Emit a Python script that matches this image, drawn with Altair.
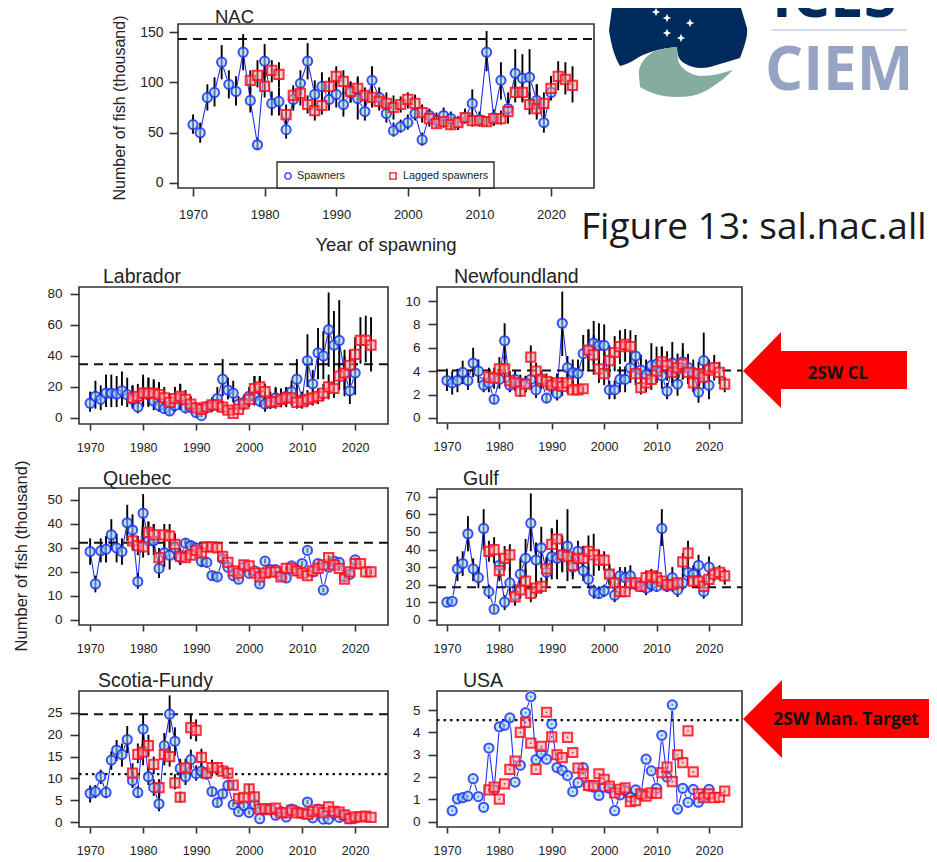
import altair as alt
import pandas as pd

# ---------- years ----------
years_s = list(range(1970, 2021))
years_l = list(range(1978, 2024))
years_usa = list(range(1971, 2021))

# ---------- NAC ----------
nac_s = [58,50,85,90,120,98,91,130,82,38,121,79,81,53,83,99,121,88,96,83,88,78,90,84,71,102,85,69,52,56,60,69,43,67,62,67,64,60,65,79,63,130,65,102,74,109,104,105,82,60,90]
nac_s_lo = [49,40,72,76,103,84,77,112,70,33,104,67,67,44,72,87,103,75,80,72,75,66,80,63,62,88,75,60,46,50,53,62,37,60,56,61,58,53,60,66,57,111,57,83,60,85,82,78,67,50,82]
nac_s_hi = [68,60,98,105,137,112,106,148,95,45,138,91,95,62,94,112,139,102,110,95,102,91,101,104,82,116,95,80,60,63,68,78,50,74,70,75,71,66,74,93,71,151,73,120,90,133,128,133,98,72,106]
nac_l = [102,107,96,112,108,68,87,89,78,72,77,96,106,101,91,94,87,85,81,79,75,78,83,79,70,64,59,61,58,60,65,62,62,61,64,64,71,90,90,78,74,79,94,106,103,97]
nac_l_lo = [90,95,85,100,95,60,75,77,69,62,68,84,95,88,80,82,77,75,72,68,63,70,74,70,60,56,54,55,53,53,59,56,56,56,57,58,59,80,80,68,63,69,84,92,88,80]
nac_l_hi = [112,122,110,122,120,78,97,100,87,87,92,105,116,112,100,106,95,95,90,90,87,86,90,88,78,72,67,67,65,66,72,68,68,66,70,72,83,100,105,90,98,90,106,121,120,116]
nac_limit = 143

# ---------- Labrador ----------
lab_s = [9.5,14,12,16,16,15.5,17.5,15,12,7,16,15,11,8,6,4.5,8,13,6.5,7,3.5,1.5,7,8,12.5,25,18,16,9,10,14,14,11,9,10,13,12,14,17,25,12,37,22,42,40,57,47,50,29,17.5,29]
lab_s_lo = [4,6,5,7,7,7,8,7,6,3,7,7,5,4,3,2,4,5,3,3,1.5,0.5,3,4,6,14,12,10,5,6,8,8,7,4,6,8,7,8,11,14,7,20,12,25,25,33,25,25,14,9,15]
lab_s_hi = [17,24,21,28,28,27,30,26,21,13,28,26,24,23,12,9,20,22,12,12,6,3,11,13,20,38,26,24,14,15,20,27,27,17,17,20,19,20,24,38,17,54,31,58,56,81,69,76,44,26,44]
lab_l = [13,14,16,16,16,15,13,10,12.5,14,12,9,6.5,5.5,7,8.5,8.5,7,5,3,5.5,9,12,19,20,17,10,10.5,12,13,13,10,10.5,12,13,14,16,20,19,27,29,34,41,50,50,47]
lab_l_lo = [7,7,8,8,8,8,7,5,6,7,6,5,3,2,3,4,4,3,2,1,2,5,7,12,13,10,6,6,7,7,8,6,6,7,8,9,11,12,13,18,18,24,30,35,36,30]
lab_l_hi = [21,22,25,26,25,23,20,16,20,22,18,14,10,9,11,13,13,11,8,5,9,14,17,27,27,22,15,19,19,20,21,15,16,18,18,19,22,28,26,36,40,44,52,65,66,65]
lab_limit = 34.7

# ---------- Newfoundland ----------
nfl_s = [3.2,3.0,3.2,3.9,3.2,4.7,4.0,2.8,3.0,1.6,3.3,6.6,2.8,3.3,3.0,2.9,3.3,2.4,3.3,1.7,2.8,2.1,8.1,4.3,3.9,3.8,5.5,5.8,6.4,6.2,6.2,2.4,2.4,3.3,3.3,4.3,5.3,4.1,3.7,4.5,4.6,3.6,2.3,4.7,2.9,4.8,4.3,3.9,2.2,4.9,2.8]
nfl_s_lo = [2.3,2.0,2.2,2.9,2.4,3.5,3.0,2.2,2.2,1.2,2.5,5.0,2.2,2.6,2.3,2.2,2.5,1.7,2.5,1.3,2.0,1.5,5.3,3.0,2.7,2.6,4.0,4.0,4.5,4.3,4.4,1.6,1.6,2.2,2.2,3.0,3.5,2.8,2.7,3.0,3.0,2.5,1.6,3.0,1.9,3.3,3.2,2.7,1.3,2.6,1.6]
nfl_s_hi = [4.2,4.0,4.2,4.9,4.0,6.0,5.0,3.5,3.8,2.0,4.2,8.1,3.4,4.0,3.7,3.6,4.2,3.2,4.0,2.1,3.5,2.7,10.8,5.3,5.0,5.0,7.1,7.6,8.3,8.1,8.0,3.2,3.2,4.4,4.4,5.5,7.1,5.4,5.0,6.4,6.1,6.1,3.0,6.5,3.9,6.4,5.5,5.0,3.1,7.3,4.0]
nfl_l = [3.5,3.4,4.2,4.2,3.2,3.0,2.3,2.9,5.2,4.0,3.3,3.1,2.8,3.0,2.7,3.0,2.4,2.4,2.5,5.8,5.4,4.2,3.8,4.9,5.6,6.1,6.3,6.1,3.8,2.6,3.0,3.3,4.0,4.8,4.5,3.9,4.3,4.6,3.9,3.0,3.8,3.5,4.1,4.3,3.9,2.9]
nfl_l_lo = [2.6,2.5,3.0,3.0,2.4,2.3,1.8,2.2,4.0,3.0,2.5,2.4,2.0,2.1,1.9,2.1,2.0,2.0,2.2,4.2,3.7,3.0,2.8,3.5,4.0,4.6,4.8,4.5,2.8,2.0,2.2,2.4,3.0,3.5,3.2,2.7,3.0,3.3,2.9,2.2,2.7,2.5,3.0,3.2,2.9,2.2]
nfl_l_hi = [4.3,4.3,5.2,5.3,4.0,3.7,2.9,3.6,6.2,4.7,4.0,3.8,3.5,3.8,3.5,3.9,3.2,3.2,2.7,7.5,7.1,5.5,5.0,6.2,7.0,7.5,7.6,7.5,5.0,3.2,4.0,4.4,5.0,6.1,5.7,5.2,5.5,5.9,5.0,4.2,4.8,4.5,5.0,5.4,4.8,3.5]
nfl_limit = 4.05

# ---------- Quebec ----------
que_s = [28.5,15,28.8,29.5,35.5,30,28.5,40.5,37.5,16,44.5,33,33,21.5,28,27,30,26,32,31,30,24.5,24,18.5,18,25.5,22,18.5,17,22,19.5,20.5,15,24.5,21,21,18.5,17.5,22.5,20.5,23.5,29,20,23.5,12.5,22,24.5,24,18,19,25]
que_s_lo = [23,11.5,24,24,29,24,23,33,31,13,36,27,27,17.5,22,21,25,23,30,28.5,28,22,22,17,16.5,24,21,17.5,16,21,18.5,19.5,14,23.5,20,20,17.5,16.5,21.5,19.5,22.5,28,19,22.5,11.5,21,23.5,23,17,18,24]
que_s_hi = [34,18.5,34,35,42,36,34,48,44,19.5,52.5,41,40,26,33,33,36,29,34,33,32,27,26,20,20,27,23,20,18,23,20.5,21.5,16,25.5,22,22,19.5,18.5,23.5,21.5,24.5,30,21,24.5,13.5,23,25.5,25,19,20,26]
que_l = [33,31,30.5,36.5,35.5,26,35.5,35,31.5,26.5,26,27,29,28,30.5,30.5,30,26.5,24,20.5,19.5,23,22.5,19.5,18,19.5,20,20,18,21.5,21.5,20.5,19.5,18.5,20.5,21.5,23,26,23,21.5,17,20,23.5,23.5,20,20]
que_l_lo = [29,27,26,31,30,22,30,30,27,23,24,25,27,26,29,29,28,25,22.5,19.5,18.5,22,21.5,18.5,17,18.5,19,19,17,20.5,20.5,19.5,18.5,17.5,19.5,20.5,22,25,22,20.5,16,19,22.5,22.5,19,19]
que_l_hi = [37,35,41,41,40,30,40,40,36,30,29,30,31,30,32,32,32,28,25,21.5,20.5,24,23.5,20.5,19,20.5,21,21,19,22.5,22.5,21.5,20.5,19.5,21.5,22.5,24,27,24,22.5,18,21,24.5,24.5,21,21]
que_limit = 32.2

# ---------- Gulf ----------
gul_s = [10,10.5,29,32,49,29,24,52,16,6,31,10,21,14,26,35,55,34,41,27,36,35,37,42,30,39,28,23,16,15,16.5,26,14,25,24,25,20,19,18,20,19,52,19,24,17,21,27,26,31,16,30]
gul_s_lo = [8.5,9,22,25,39,22,18,40,12,4,24,5.5,14,8,18,24,39,24,29,19,23,23,27,22,23,31,22,18,12,12,13,20,10,20,19,20,17,16,14,16,16,42,16,18,13,17,20,21,24,12,24]
gul_s_hi = [11.5,12,36,39,59,35,30,63,20,8,38,14,30,20,35,46,72,44,53,35,52,47,48,63,38,45,42,30,20,19,20,32,17,30,30,31,23,22,23,25,22,63,23,30,21,26,33,31,37,20,36]
gul_l = [39,40,28,35,37,13,17,22,15,18,19,29,43,46,37,36,31,35,35,39,37,34,34,26,21,16,16,21,21,19,24,25,24,22,20,20,21,33,38,22,22,19,23,26,27,25]
gul_l_lo = [33,32,22,28,28,9,12,16,10,13,15,21,34,36,28,28,25,28,27,28,25,28,28,20,16,13,13,17,17,16,19,20,20,18,16,16,17,25,30,18,18,15,18,22,23,20]
gul_l_hi = [45,47,33,42,43,18,23,29,21,25,24,36,52,57,46,45,37,42,42,48,49,40,39,31,26,20,20,25,24,23,28,29,28,25,24,24,24,38,45,27,26,23,28,30,31,29]
gul_limit = 18.5

# ---------- Scotia-Fundy ----------
sco_s = [6.6,7.0,10.4,6.8,14.2,16.5,15.5,18.9,9.5,6.8,21.3,10.4,7.9,4.2,17.5,24.7,18.5,12.3,10.4,14.3,11.1,11.7,11,7,4.5,6.5,8.4,4,2.4,3.8,2.2,4.1,0.8,2.8,2.8,1.6,2.4,1.2,3,2.5,2,4.6,1,3,0.7,0.7,2,1.1,1.4,0.8,0.9]
sco_s_lo = [4.5,5.5,8.7,5.5,12,14,12.7,15.8,7.8,5.5,17.5,8.5,6,2.5,14.8,20.5,15.2,10,8.5,12,9.5,10,9.8,6,3.7,5.5,7.5,3.5,2,3.2,1.8,3.5,0.6,2.5,2.5,1.4,2.1,1,2.7,2.2,1.8,4.1,0.8,2.7,0.6,0.6,1.8,0.9,1.2,0.7,0.8]
sco_s_hi = [8.4,8.5,12,8.2,16.2,18.8,18,22,11.5,8.3,24.8,12.5,9.8,6,20.4,29,21.7,14.5,12.3,16.6,13,13.5,12.3,8,5.3,7.5,9.5,4.6,2.9,4.4,2.7,4.8,1,3.1,3.1,1.8,2.7,1.4,3.3,2.8,2.2,5.1,1.2,3.3,0.8,0.8,2.2,1.3,1.6,0.9,1]
sco_l = [11.2,15.5,16,17.5,13.2,7.9,15.5,15,9,5.7,12.4,21.6,21,14.8,11.2,12.5,12.5,11.7,11.2,8.5,5.4,5.7,7.6,5.8,3,3.1,2.9,3.2,2.1,2.2,2.7,2.1,2.1,1.8,2.4,2.8,2.2,3.5,2.5,2.3,1.7,0.8,1.2,1.2,1.4,1.1]
sco_l_lo = [9,13.5,13,15,11,6,13,12.7,7.5,4.5,10,19,18.5,12.8,10,10.5,11,10.5,10,7.5,4.6,4.8,6.5,4.7,2.6,2.8,2.6,2.9,1.9,2,2.4,1.9,1.9,1.6,2.2,2.5,2,3.2,2.3,2.1,1.5,0.7,1.1,1.1,1.3,1]
sco_l_hi = [13.5,18,20,20,15,9.8,18,17.5,11,7,14.5,24.8,23.5,16.8,12.5,14.3,13.7,13,12.5,9.5,6.3,6.5,8.7,7,3.4,3.4,3.2,3.5,2.3,2.4,3,2.3,2.3,2,2.6,3.1,2.4,3.8,2.7,2.5,1.9,0.9,1.3,1.3,1.5,1.2]
sco_limit = 24.7
sco_target = 11

# ---------- USA ----------
usa_s = [.5,1.03,1.08,1.15,1.93,1.13,.65,3.3,1.43,4.25,4.32,4.65,1.78,2.53,4.88,5.6,2.78,3.05,2.8,4.37,2.43,2.3,2.07,1.35,1.75,2.42,1.6,1.55,1.18,1.55,1.5,.5,1.2,1.4,1.1,1.43,1.2,2.8,2.28,1.5,3.87,2.0,5.23,.57,1.5,.87,1.45,.88,1.15,1.45]
usa_l = [1.43,1.55,1.02,1.7,2.35,2.72,4.0,4.45,3.52,2.35,3.37,4.9,3.8,3.0,2.87,3.78,3.1,2.4,2.15,1.63,1.62,2.15,1.9,1.6,1.3,1.45,1.52,.9,.95,1.25,1.15,1.3,1.27,2.2,2.45,1.8,3.0,2.65,4.07,2.23,1.25,1.08,1.25,1.08,1.1,1.38]
usa_limit = 4.55

x_ticks = [1970, 1980, 1990, 2000, 2010, 2020]
nac_ticks = [0, 50, 100, 150]
lab_ticks = [0, 20, 40, 60, 80]
nfl_ticks = [0, 2, 4, 6, 8, 10]
que_ticks = [0, 10, 20, 30, 40, 50]
gul_ticks = [0, 10, 20, 30, 40, 50, 60, 70]
sco_ticks = [0, 5, 10, 15, 20, 25]
usa_ticks = [0, 1, 2, 3, 4, 5]

FONT = "Liberation Sans"
BLUE = "#1f2fff"
RED = "#ff0f1f"
OX, OY = 8, 8  # page margin
VIEW_W, VIEW_H = 921, 854
layers = []


def text(label, px, py, size, color="#222222", align="left", angle=0, font=FONT, weight="normal", baseline="middle"):
    return alt.Chart(pd.DataFrame({"t": [label]})).mark_text(
        font=font, fontSize=size, color=color, align=align, baseline=baseline, angle=angle, fontWeight=weight
    ).encode(text="t:N", x=alt.value(px - OX), y=alt.value(py - OY))


def shape(path, color):
    # annotation outline in page pixels (size 4 gives one path unit per pixel)
    return alt.Chart(pd.DataFrame({"a": [0]})).mark_point(
        shape=path, size=4, filled=True, fill=color, opacity=1, strokeWidth=0
    ).encode(x=alt.value(-OX), y=alt.value(-OY))


def panel(title, tx, ty, tsize, box, xdom, ydom, yticks, s_years, s, l, s_lo=None, s_hi=None, l_lo=None, l_hi=None,
          limit=None, target=None, big=False):
    x0, x1, y0, y1 = box
    xs = alt.Scale(domain=xdom, range=[x0 - OX, x1 - OX], nice=False, zero=False)
    ys = alt.Scale(domain=ydom, range=[y1 - OY, y0 - OY], nice=False, zero=False)
    xq = alt.X("year:Q", scale=xs, axis=None)
    yq = alt.Y("v:Q", scale=ys, axis=None)
    sd = pd.DataFrame({"year": s_years, "v": s})
    ld = pd.DataFrame({"year": years_l, "v": l})

    # frame
    layers.append(alt.Chart(pd.DataFrame({"a": [0]})).mark_rect(fillOpacity=0, stroke="#333333", strokeWidth=1.6).encode(
        x=alt.value(x0 - OX), x2=alt.value(x1 - OX), y=alt.value(y0 - OY), y2=alt.value(y1 - OY)))
    # spawner line carrying the axes
    xa = alt.Axis(orient="bottom", values=x_ticks, format="d", title=None, grid=False, domain=False,
                  tickSize=8 if big else 6, tickWidth=1.6, tickColor="#333333", labelColor="#222222",
                  labelFont=FONT, labelFontSize=13 if big else 12.5, labelPadding=12 if big else 11,
                  labelFlush=False, labelOverlap=False, offset=(y1 - OY) - VIEW_H)
    ya = alt.Axis(orient="left", values=yticks, format="d", title=None, grid=False, domain=False,
                  tickSize=9, tickWidth=1.6, tickColor="#333333", labelColor="#222222",
                  labelFont=FONT, labelFontSize=14 if big else 13.5, labelPadding=6 if big else 8,
                  labelFlush=False, labelOverlap=False, offset=-(x0 - OX))
    layers.append(alt.Chart(sd).mark_line(color=BLUE, strokeWidth=1.1).encode(
        x=alt.X("year:Q", scale=xs, axis=xa), y=alt.Y("v:Q", scale=ys, axis=ya)))
    # "b"-style gaps around the spawner points
    layers.append(alt.Chart(sd).mark_point(shape="circle", size=150, filled=True, fill="white", opacity=1, strokeWidth=0).encode(x=xq, y=yq))
    # limit lines
    for val, dash, w in ((limit, [9, 6], 2.0), (target, [2.5, 4], 2.4)):
        if val is not None:
            layers.append(alt.Chart(pd.DataFrame({"v": [val]})).mark_rule(color="#111111", strokeWidth=w, strokeDash=dash).encode(
                y=yq, x=alt.value(x0 - OX), x2=alt.value(x1 - OX)))
    # error bars
    if s_lo is not None:
        layers.append(alt.Chart(pd.DataFrame({"year": s_years, "v": s_lo, "h": s_hi})).mark_rule(color="black", strokeWidth=1.9).encode(x=xq, y=yq, y2="h:Q"))
        layers.append(alt.Chart(pd.DataFrame({"year": years_l, "v": l_lo, "h": l_hi})).mark_rule(color="black", strokeWidth=1.9).encode(x=xq, y=yq, y2="h:Q"))
    else:
        layers.append(alt.Chart(sd).mark_point(shape="circle", size=3, filled=True, fill="black", opacity=1, strokeWidth=0).encode(x=xq, y=yq))
        layers.append(alt.Chart(ld).mark_point(shape="circle", size=3, filled=True, fill="black", opacity=1, strokeWidth=0).encode(x=xq, y=yq))
    # points
    layers.append(alt.Chart(sd).mark_point(shape="circle", size=85, filled=True, fill="#8fd3e8", fillOpacity=0.6, stroke=BLUE, strokeWidth=2, strokeOpacity=0.85).encode(x=xq, y=yq))
    layers.append(alt.Chart(ld).mark_point(shape="square", size=85, filled=True, fill="#ff9aa2", fillOpacity=0.5, stroke=RED, strokeWidth=2, strokeOpacity=0.85).encode(x=xq, y=yq))
    # title
    layers.append(text(title, tx, ty, tsize))


panel("NAC", 215, 17.3, 18.5, (178, 594, 24, 188), [1967.9, 2026], [-5, 158], nac_ticks, years_s, nac_s, nac_l,
      nac_s_lo, nac_s_hi, nac_l_lo, nac_l_hi, limit=nac_limit, big=True)
panel("Labrador", 103, 277, 19.5, (79, 388, 287, 424), [1967.9, 2026.2], [-3.9, 84.5], lab_ticks, years_s, lab_s, lab_l,
      lab_s_lo, lab_s_hi, lab_l_lo, lab_l_hi, limit=lab_limit)
panel("Newfoundland", 454, 277, 19.5, (437, 742, 287, 423), [1968.1, 2026.3], [-0.43, 11.2], nfl_ticks, years_s, nfl_s, nfl_l,
      nfl_s_lo, nfl_s_hi, nfl_l_lo, nfl_l_hi, limit=nfl_limit)
panel("Quebec", 103, 479, 19.5, (79, 388, 488, 625), [1967.9, 2026.2], [-2.1, 55], que_ticks, years_s, que_s, que_l,
      que_s_lo, que_s_hi, que_l_lo, que_l_hi, limit=que_limit)
panel("Gulf", 463, 479, 19.5, (437, 742, 489, 625), [1968.1, 2026.3], [-3, 74.5], gul_ticks, years_s, gul_s, gul_l,
      gul_s_lo, gul_s_hi, gul_l_lo, gul_l_hi, limit=gul_limit)
panel("Scotia-Fundy", 98, 681, 19.5, (79, 388, 691, 827), [1967.9, 2026.2], [-1.1, 30], sco_ticks, years_s, sco_s, sco_l,
      sco_s_lo, sco_s_hi, sco_l_lo, sco_l_hi, limit=sco_limit, target=sco_target)
panel("USA", 463, 681, 19.5, (437, 742, 691, 827), [1968.1, 2026.3], [-0.23, 5.85], usa_ticks, years_usa, usa_s, usa_l,
      target=usa_limit)

# legend of the NAC panel
layers.append(alt.Chart(pd.DataFrame({"a": [0]})).mark_rect(fill="white", stroke="#222222", strokeWidth=1.3).encode(
    x=alt.value(277 - OX), x2=alt.value(494 - OX), y=alt.value(162 - OY), y2=alt.value(188 - OY)))
layers.append(alt.Chart(pd.DataFrame({"a": [0]})).mark_point(shape="circle", size=40, stroke=BLUE, strokeWidth=1.3, opacity=1).encode(
    x=alt.value(288 - OX), y=alt.value(176 - OY)))
layers.append(alt.Chart(pd.DataFrame({"a": [0]})).mark_point(shape="square", size=40, stroke=RED, strokeWidth=1.3, opacity=1).encode(
    x=alt.value(393 - OX), y=alt.value(176 - OY)))
layers.append(text("Spawners", 297, 176, 10.8))
layers.append(text("Lagged spawners", 403, 176, 10.8))

# axis titles and caption
layers.append(text("Year of spawning", 386, 245, 18.5, align="center"))
layers.append(text("Number of fish (thousand)", 120, 108, 16, align="center", angle=270))
layers.append(text("Number of fish (thousand)", 22, 556, 16.5, align="center", angle=270))
layers.append(text("Figure 13: sal.nac.all", 581, 228, 37, font="Open Sans", color="#1a1a1a"))

# ICES logo
layers.append(shape("M612 8L609 30C611 45 615 58 620 66C630 64 636 58 643 55C655 50 665 48 677 47C677 55 679 60 684 63C692 68 700 69 710 67L740 58C745 45 748 35 747 28L741 8Z", "#002b5c"))
layers.append(shape("M677 47C665 48 655 50 650 54C642 60 638 68 639 76L640 87C648 92 660 97 678 97C695 97 705 92 712 87C720 82 727 76 733 70C722 73 712 76 700 76C690 75 680 68 678 60Z", "#85ad9f"))
star_x = [656, 667, 690, 667, 681]
star_y = [12, 18, 23, 33, 38]
layers.append(alt.Chart(pd.DataFrame({"sx": [v - OX for v in star_x], "sy": [v - OY for v in star_y]})).mark_point(
    shape="M0 -1L.3 -.3L1 0L.3 .3L0 1L-.3 .3L-1 0L-.3 -.3Z", size=70, filled=True, fill="white", opacity=1, strokeWidth=0
).encode(x=alt.X("sx:Q", scale=None, axis=None), y=alt.Y("sy:Q", scale=None, axis=None)))
layers.append(text("ICES", 772, 17, 60, color="#002b5c", font="Open Sans", weight="bold", baseline="alphabetic"))
layers.append(text("CIEM", 765, 90, 60, color="#97a3c3", font="Open Sans", weight="bold", baseline="alphabetic"))
layers.append(alt.Chart(pd.DataFrame({"a": [0]})).mark_rule(color="#a9b7d1", strokeWidth=1).encode(
    x=alt.value(772 - OX), x2=alt.value(907 - OX), y=alt.value(30 - OY)))

# annotation arrows
layers.append(shape("M743 371L781 332V351H907V389H781V408Z", "#ff0000"))
layers.append(shape("M743 719L782 680V699H937V738H782V758Z", "#ff0000"))
layers.append(text("2SW CL", 838, 374, 17, color="#111111", font="Open Sans", weight="bold", align="center"))
layers.append(text("2SW Man. Target", 846, 720, 17.5, color="#111111", font="Open Sans", weight="bold", align="center"))

chart = alt.layer(*layers).resolve_scale(x="independent", y="independent").properties(
    width=VIEW_W, height=VIEW_H, padding=0,
    autosize=alt.AutoSizeParams(type="none", contains="padding"),
    background="white",
).configure_view(stroke=None)

chart.save("out.html", embed_options={"renderer": "svg", "actions": False})
